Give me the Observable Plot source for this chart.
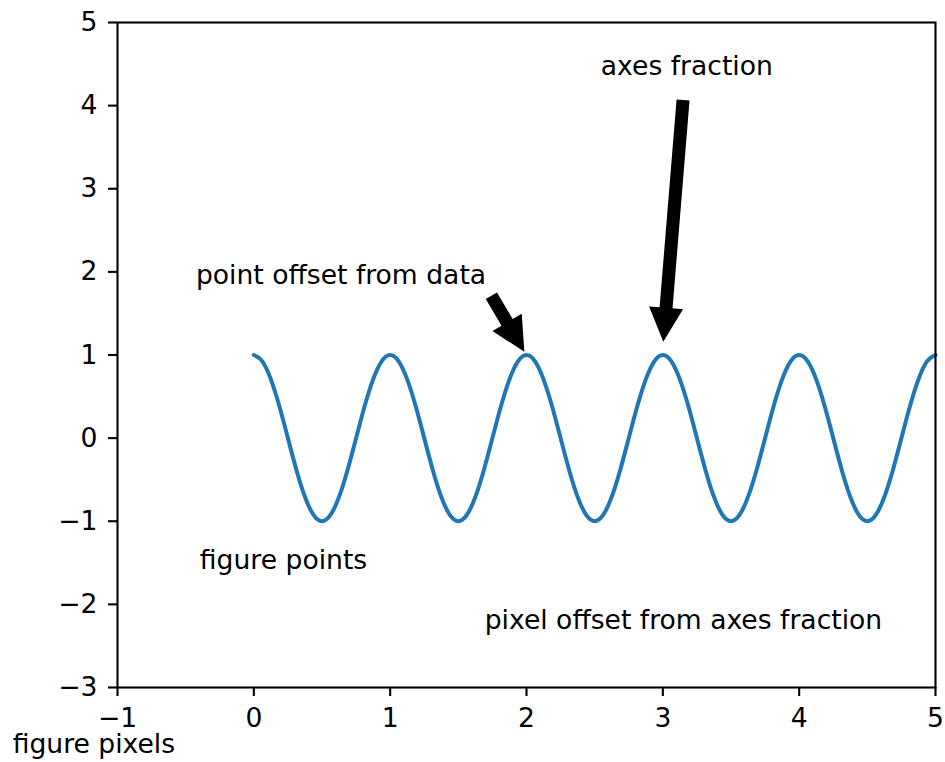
<!DOCTYPE html>
<html>
<head>
<meta charset="utf-8">
<script src="https://cdn.jsdelivr.net/npm/d3@7"></script>
<script src="https://cdn.jsdelivr.net/npm/@observablehq/plot@0.6"></script>
<style>
  html, body { margin: 0; padding: 0; background: #ffffff; }
</style>
</head>
<body>
<div id="chart"></div>
<script>
// ---- data ----
const tValues = [
  0, 0.0625, 0.125, 0.1875, 0.25, 0.3125, 0.375, 0.4375,
  0.5, 0.5625, 0.625, 0.6875, 0.75, 0.8125, 0.875, 0.9375,
  1, 1.0625, 1.125, 1.1875, 1.25, 1.3125, 1.375, 1.4375,
  1.5, 1.5625, 1.625, 1.6875, 1.75, 1.8125, 1.875, 1.9375,
  2, 2.0625, 2.125, 2.1875, 2.25, 2.3125, 2.375, 2.4375,
  2.5, 2.5625, 2.625, 2.6875, 2.75, 2.8125, 2.875, 2.9375,
  3, 3.0625, 3.125, 3.1875, 3.25, 3.3125, 3.375, 3.4375,
  3.5, 3.5625, 3.625, 3.6875, 3.75, 3.8125, 3.875, 3.9375,
  4, 4.0625, 4.125, 4.1875, 4.25, 4.3125, 4.375, 4.4375,
  4.5, 4.5625, 4.625, 4.6875, 4.75, 4.8125, 4.875, 4.9375,
  5
];
const curveValues = [
  1, 0.924, 0.707, 0.383, 0, -0.383, -0.707, -0.924,
  -1, -0.924, -0.707, -0.383, 0, 0.383, 0.707, 0.924,
  1, 0.924, 0.707, 0.383, 0, -0.383, -0.707, -0.924,
  -1, -0.924, -0.707, -0.383, 0, 0.383, 0.707, 0.924,
  1, 0.924, 0.707, 0.383, 0, -0.383, -0.707, -0.924,
  -1, -0.924, -0.707, -0.383, 0, 0.383, 0.707, 0.924,
  1, 0.924, 0.707, 0.383, 0, -0.383, -0.707, -0.924,
  -1, -0.924, -0.707, -0.383, 0, 0.383, 0.707, 0.924,
  1, 0.924, 0.707, 0.383, 0, -0.383, -0.707, -0.924,
  -1, -0.924, -0.707, -0.383, 0, 0.383, 0.707, 0.924,
  1
];
const xTicks = [-1, 0, 1, 2, 3, 4, 5];
const yTicks = [-3, -2, -1, 0, 1, 2, 3, 4, 5];

const labelTexts  = ["axes fraction", "point offset from data", "figure points", "pixel offset from axes fraction", "figure pixels"];
const labelX      = [3.807, 1.704, -0.396, 4.609, -1.769];
const labelY      = [4.473, 1.959, -1.470, -2.192, -3.686];
const labelAnchor = ["end", "end", "start", "end", "start"];

const arrowFromX = [3.152, 1.746];
const arrowFromY = [4.062, 1.707];
const arrowToX   = [3.007, 1.988];
const arrowToY   = [1.154, 1.034];

// ---- tables built from the arrays ----
const curve = tValues.map((t, i) => ({t, y: curveValues[i]}));
const labels = labelTexts.map((text, i) => ({text, x: labelX[i], y: labelY[i], anchor: labelAnchor[i]}));
const arrows = arrowFromX.map((x1, i) => ({x1, y1: arrowFromY[i], x2: arrowToX[i], y2: arrowToY[i]}));

const FONT = "DejaVu Sans";
const FS = 26.6;
const fmt = d3.format("d");

// custom mark: filled matplotlib-style arrows placed with the plot's scales
function arrowMark(index, scales) {
  const g = document.createElementNS("http://www.w3.org/2000/svg", "g");
  g.setAttribute("aria-label", "arrows");
  const sw = 6.5, hw = 17, hl = 34;
  for (const a of arrows) {
    const x1 = scales.x(a.x1), y1 = scales.y(a.y1);
    const x2 = scales.x(a.x2), y2 = scales.y(a.y2);
    const dx = x2 - x1, dy = y2 - y1, L = Math.hypot(dx, dy);
    const ux = dx / L, uy = dy / L, nx = -uy, ny = ux;
    const bx = x2 - ux * hl, by = y2 - uy * hl;
    const pts = [
      [x1 + nx * sw, y1 + ny * sw],
      [bx + nx * sw, by + ny * sw],
      [bx + nx * hw, by + ny * hw],
      [x2, y2],
      [bx - nx * hw, by - ny * hw],
      [bx - nx * sw, by - ny * sw],
      [x1 - nx * sw, y1 - ny * sw]
    ];
    const p = document.createElementNS("http://www.w3.org/2000/svg", "polygon");
    p.setAttribute("points", pts.map(d => d.join(",")).join(" "));
    p.setAttribute("fill", "black");
    p.setAttribute("stroke", "none");
    g.appendChild(p);
  }
  return g;
}

const plot = Plot.plot({
  width: 945,
  height: 762,
  marginLeft: 117,
  marginRight: 10,
  marginTop: 22,
  marginBottom: 75,
  style: { fontFamily: FONT, fontSize: FS + "px", background: "#ffffff", color: "black" },
  x: { domain: [-1, 5], ticks: xTicks, label: null, axis: null },
  y: { domain: [-3, 5], ticks: yTicks, label: null, axis: null },
  marks: [
    Plot.line(curve, { x: "t", y: "y", stroke: "#1f77b4", strokeWidth: 4, curve: "natural" }),
    Plot.axisX(xTicks, { tickSize: 9, tickPadding: 12, strokeWidth: 2.1, fontSize: FS, label: null, anchor: "bottom", tickFormat: fmt }),
    Plot.axisY(yTicks, { tickSize: 9, tickPadding: 11, strokeWidth: 2.1, fontSize: FS, label: null, anchor: "left", tickFormat: fmt }),
    Plot.frame({ stroke: "black", strokeWidth: 2.1 }),
    Plot.text(labels.filter(d => d.anchor === "end"), { x: "x", y: "y", text: "text", textAnchor: "end", lineAnchor: "middle", fontSize: FS, fill: "black" }),
    Plot.text(labels.filter(d => d.anchor === "start"), { x: "x", y: "y", text: "text", textAnchor: "start", lineAnchor: "middle", fontSize: FS, fill: "black" }),
    arrowMark
  ]
});

document.getElementById("chart").appendChild(plot);
</script>
</body>
</html>
